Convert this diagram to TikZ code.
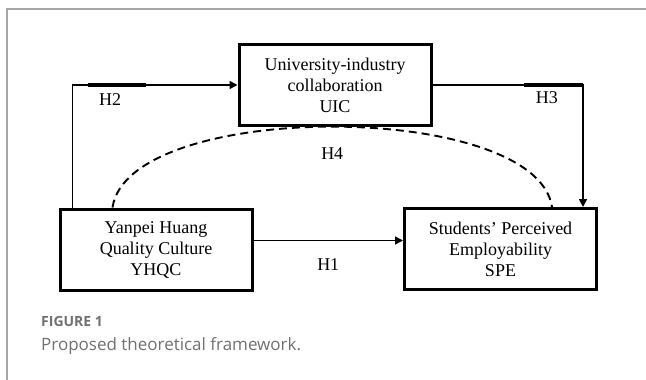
\documentclass[tikz,border=0pt]{standalone}
\usepackage{fontspec}
\setmainfont{Liberation Serif}
\newfontfamily\capfont{Open Sans}
\usepackage{xcolor}
\usetikzlibrary{positioning, calc, arrows.meta}

\definecolor{framegray}{HTML}{A6A6A6}
\definecolor{capgray}{HTML}{707070}

\tikzset{
    varbox/.style={draw, line width=3pt, minimum width=192pt, minimum height=81pt,
        inner sep=0pt, align=center, font=\fontsize{18}{21}\selectfont},
    link/.style={line width=1.6pt, -{Triangle[length=8pt, width=8pt]}},
    hlabel/.style={font=\fontsize{18}{21}\selectfont, inner sep=0pt},
    thickbar/.style={line width=3.2pt}
}

\begin{document}
\begin{tikzpicture}[x=1pt, y=-1pt]
    \useasboundingbox (0,0) rectangle (646,380);

    % Frame
    \draw[framegray, line width=1.5pt] (646,9) -- (7,9) -- (7,380);

    % Variables
    \node[varbox] (uic) at (335,85) {University-industry\\collaboration\\UIC};
    \node[varbox] (yhqc) at (156,249.5) {Yanpei Huang\\Quality Culture\\YHQC};
    \node[varbox] (spe) at (500.5,249) {Students' Perceived\\Employability\\SPE};

    % H1: direct path
    \coordinate (h1start) at ([yshift=9pt]yhqc.east);
    \draw[link] (h1start) -- (h1start -| spe.west)
        node[hlabel, midway, yshift=-24pt] (h1) {H1};

    % H2 and H3: mediation paths
    \draw[link] ([xshift=14pt]yhqc.north west) |- (uic.west)
        node[hlabel, pos=0.614, yshift=-14.5pt] (h2) {H2};
    \draw[link] (uic.east) -| ([xshift=-15pt]spe.north east)
        node[hlabel, pos=0.38, yshift=-13pt] (h3) {H3};
    \draw[thickbar] ($(yhqc.north west |- uic.west)+(29,0)$) -- ++(58,0);
    \draw[thickbar] ($(spe.north east |- uic.east)+(-74,0)$) -- ++(59,0);

    % H4: indirect effect
    \draw[line width=1.9pt, dash pattern=on 8pt off 5pt]
        ([xshift=54pt]yhqc.north west) .. controls +(16,-108) and +(-16,-107) ..
        ([xshift=-46pt]spe.north east)
        node[hlabel, pos=0.5, yshift=-27pt] (h4) {H4};

    % Caption
    \node[anchor=base west, inner sep=0pt, capgray, font=\capfont\bfseries\fontsize{14}{16}\selectfont]
        (figno) at (41,326) {FIGURE 1};
    \node[anchor=base west, inner sep=0pt, capgray, font=\capfont\fontsize{17}{20}\selectfont]
        (figcap) at (41,350) {Proposed theoretical framework.};
\end{tikzpicture}
\end{document}
